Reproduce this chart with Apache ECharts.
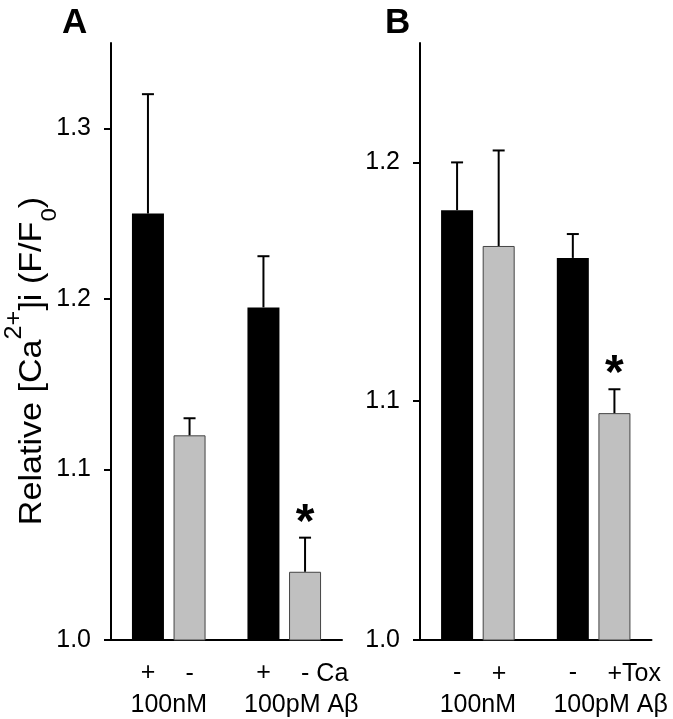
<!DOCTYPE html>
<html>
<head>
<meta charset="utf-8">
<script src="https://cdn.jsdelivr.net/npm/echarts@6/dist/echarts.min.js"></script>
<style>
html,body{margin:0;padding:0;background:#fff;}
#chart{width:673px;height:719px;}
</style>
</head>
<body>
<div id="chart"></div>
<script>
// ---- data ----
const categories = ['100nM', '100pM Aβ'];
const yTicksA = [1.0, 1.1, 1.2, 1.3];
const yTicksB = [1.0, 1.1, 1.2];

const meanA_black = [1.25, 1.195];
const semA_black  = [0.07, 0.03];
const signA_black = ['+', '+'];
const starA_black = ['', ''];

const meanA_gray = [1.12, 1.04];
const semA_gray  = [0.01, 0.02];
const signA_gray = ['-', '- Ca'];
const starA_gray = ['', '*'];

const meanB_black = [1.18, 1.16];
const semB_black  = [0.02, 0.01];
const signB_black = ['-', '-'];
const starB_black = ['', ''];

const meanB_gray = [1.165, 1.095];
const semB_gray  = [0.04, 0.01];
const signB_gray = ['+', '+Tox'];
const starB_gray = ['', '*'];

// ---- chart ----
const FONT = "'Liberation Sans', Arial, sans-serif";
const BAR_W = 32;
const BAR_GAP = '30%';
const HALF_OFF = BAR_W / 2 + BAR_W * 0.3 / 2;

function yAxisCfg(gi, max, ticks) {
  return {
    type: 'value', gridIndex: gi, min: 1.0, max: max,
    splitLine: {show: false},
    axisLine: {show: true, lineStyle: {color: '#000', width: 2}},
    axisTick: {show: true, length: 7, lineStyle: {color: '#000', width: 2}, customValues: ticks},
    axisLabel: {customValues: ticks, margin: 20, fontSize: 25, fontFamily: FONT, color: '#000',
      formatter: v => Number(v).toFixed(1)}
  };
}
function xAxisCfg(gi) {
  return {
    type: 'category', gridIndex: gi,
    data: categories.map((c, i) => i === 1 ? {value: c, textStyle: {padding: [0, 0, 0, 34]}} : {value: c}),
    axisLine: {show: true, lineStyle: {color: '#000', width: 2}},
    axisTick: {show: false},
    axisLabel: {margin: 53, fontSize: 25, fontFamily: FONT, color: '#000', interval: 0}
  };
}
function barSeries(gi, vals, signs, color, border, labelOffset) {
  return {
    type: 'bar', xAxisIndex: gi, yAxisIndex: gi,
    barWidth: BAR_W, barGap: BAR_GAP,
    data: vals,
    itemStyle: {color: color, borderColor: border, borderWidth: border ? 1 : 0},
    label: {
      show: true, position: 'bottom', distance: 21,
      formatter: p => signs[p.dataIndex],
      fontSize: 25, fontFamily: FONT, color: '#000',
      align: labelOffset ? 'left' : 'center',
      offset: [labelOffset || 0, 0]
    },
    z: 2
  };
}
function errSeries(gi, vals, errs, stars, side) {
  return {
    type: 'custom', xAxisIndex: gi, yAxisIndex: gi,
    data: vals.map((v, i) => [i, v, errs[i]]),
    z: 3,
    renderItem: function (params, api) {
      const i = api.value(0), v = api.value(1), e = api.value(2);
      const base = api.coord([i, v]);
      const top = api.coord([i, v + e]);
      const x = base[0] + side * HALF_OFF;
      const children = [
        {type: 'line', shape: {x1: x, y1: base[1], x2: x, y2: top[1]},
          style: {stroke: '#000', lineWidth: 2}},
        {type: 'line', shape: {x1: x - 6, y1: top[1], x2: x + 6, y2: top[1]},
          style: {stroke: '#000', lineWidth: 2}}
      ];
      if (stars[i]) {
        children.push({type: 'text', x: x, y: top[1] - 14,
          style: {text: stars[i], fontSize: 48, fontWeight: 'bold', fontFamily: FONT,
            fill: '#000', align: 'center', verticalAlign: 'middle'}});
      }
      return {type: 'group', children: children};
    }
  };
}

const chart = echarts.init(document.getElementById('chart'), null, {renderer: 'canvas'});
chart.setOption({
  animation: false,
  backgroundColor: '#fff',
  grid: [
    {left: 111, top: 43, width: 231, height: 597},
    {left: 420, top: 43, width: 231.5, height: 597}
  ],
  xAxis: [xAxisCfg(0), xAxisCfg(1)],
  yAxis: [yAxisCfg(0, 1.35, yTicksA), yAxisCfg(1, 1.25, yTicksB)],
  series: [
    barSeries(0, meanA_black, signA_black, '#000', null, 0),
    barSeries(0, meanA_gray, signA_gray, '#c0c0c0', '#444', -4),
    barSeries(1, meanB_black, signB_black, '#000', null, 0),
    barSeries(1, meanB_gray, signB_gray, '#c0c0c0', '#444', -7),
    errSeries(0, meanA_black, semA_black, starA_black, -1),
    errSeries(0, meanA_gray, semA_gray, starA_gray, 1),
    errSeries(1, meanB_black, semB_black, starB_black, -1),
    errSeries(1, meanB_gray, semB_gray, starB_gray, 1)
  ],
  graphic: [
    {type: 'text', left: 62, top: 6, style: {text: 'A', fontSize: 35, fontWeight: 'bold', fontFamily: FONT, fill: '#000'}},
    {type: 'text', left: 385, top: 6, style: {text: 'B', fontSize: 35, fontWeight: 'bold', fontFamily: FONT, fill: '#000'}},
    {type: 'text', x: 32, y: 361, rotation: Math.PI / 2, scaleX: 1.1,
      style: {
        text: '{n|Relative [Ca}{sup|2+}{n|]i (F/F}{sub|0}{n|)}',
        align: 'center', verticalAlign: 'middle', fill: '#000',
        rich: {
          n: {fontSize: 31, fontFamily: FONT, fill: '#000', lineHeight: 57},
          sup: {fontSize: 23, fontFamily: FONT, fill: '#000', verticalAlign: 'top', lineHeight: 16.4},
          sub: {fontSize: 22, fontFamily: FONT, fill: '#000', verticalAlign: 'bottom', lineHeight: 30.8}
        }
      }}
  ]
});
</script>
</body>
</html>
